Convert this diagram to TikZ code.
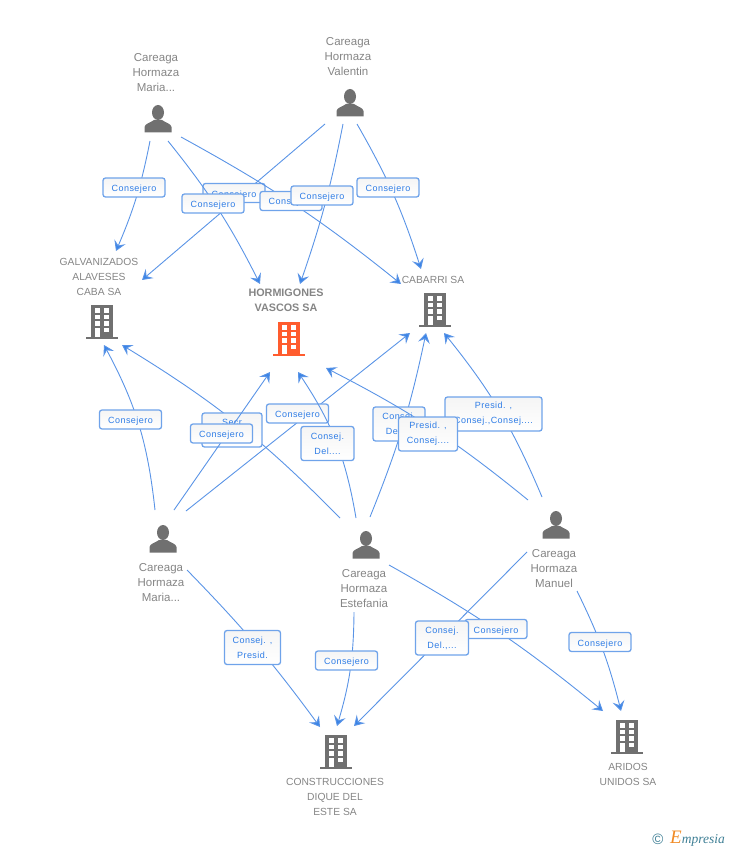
\documentclass[tikz,border=0pt]{standalone}
\usepackage{fontspec}
\setmainfont{Liberation Sans}
\newfontfamily\badgefont[LetterSpace=5]{Liberation Sans}
\newfontfamily\logofont{Liberation Serif}
\usetikzlibrary{arrows.meta}
\definecolor{linkblue}{HTML}{5A94E6}
\definecolor{tipblue}{HTML}{3A84E6}
\definecolor{badgeline}{HTML}{6FA3EA}
\definecolor{badgetext}{HTML}{2F7DE6}
\definecolor{iconGray}{HTML}{707070}
\definecolor{iconRed}{HTML}{FF5C2E}
\definecolor{nameGray}{HTML}{858585}
\definecolor{logoTeal}{HTML}{3F7F95}
\definecolor{logoOrange}{HTML}{F08A24}
\tikzset{
  link/.style={draw=linkblue, line width=0.9pt, -{Stealth[length=10pt,width=12pt,inset=4pt,fill=tipblue]}},
  badge/.style={draw=badgeline, line width=1.3pt, rounded corners=2.5pt, top color=black!4, bottom color=white,
    text=badgetext, font=\badgefont\fontsize{9}{15}\selectfont, align=center, inner sep=0pt,
    minimum width=#1, minimum height=19, text height=9pt, text depth=1pt},
  badge/.default=62,
  tall/.style={minimum height=34, text height=, text depth=},
  person/.style={text=nameGray, font=\fontsize{11.5}{15}\selectfont, align=center, inner sep=0pt},
  firm/.style={text=nameGray, font=\fontsize{10.3}{15}\selectfont, align=center, inner sep=0pt},
  pics/tower/.style={code={
    \fill[#1] (-11,-17) rectangle (11,15);
    \fill[#1] (-16,15) rectangle (16,17);
    \foreach \y in {-14,-7.5,-1} {
      \fill[white] (-7,\y) rectangle (-2,\y+4.5);
      \fill[white] (2,\y) rectangle (7,\y+4.5);
    }
    \fill[white] (-7,5.5) rectangle (-2,15);
    \fill[white] (2,5.5) rectangle (7,10);
  }},
  pics/someone/.style={code={
    \fill[iconGray] (0,-6.5) ellipse (6 and 7.5);
    \fill[iconGray] (-13.5,13.5) -- (-13.5,8) .. controls (-13,4.5) and (-8,4) .. (-4,1) -- (4,1)
      .. controls (8,4) and (13,4.5) .. (13.5,8) -- (13.5,13.5) -- cycle;
  }}
}
\begin{document}
\begin{tikzpicture}[x=1pt,y=-1pt]
  \useasboundingbox (0,0) rectangle (728,850);
  % loose ends of the links
  \foreach \i/\x/\y in {1/150/141, 2/168/141, 3/181/137, 4/325/124, 5/343/124, 6/357/124,
      7/155/510, 8/174/510, 9/186/511, 10/187/570, 11/340/518, 12/356/518, 13/370/517,
      14/528/500, 15/542/497, 16/389/565, 17/527/552, 18/577/591, 19/354/612}
    \coordinate (s\i) at (\x,\y);
  \foreach \i/\x/\y in {1/116/251, 2/260/284, 3/401/284, 4/142/280, 5/300/284, 6/421/269,
      7/104/345, 8/270/372, 9/410/333, 10/320/727, 11/122/345, 12/298/372, 13/426/333,
      14/326/368, 15/444/333, 16/603/711, 17/354/726, 18/621/711, 19/337/726}
    \coordinate (e\i) at (\x,\y);

  \foreach \n/\x/\y in {mariaTop/158/119, valentin/350/103, mariaLow/163/539, estefania/366/545, manuel/556/525}
    \pic (\n) at (\x,\y) {someone};
  \foreach \n/\x/\y/\c in {galvanizados/102/322/iconGray, hormigones/289/339/iconRed, cabarri/435/310/iconGray,
      construcciones/336/752/iconGray, aridos/627/737/iconGray}
    \pic (\n) at (\x,\y) {tower=\c};

  \node[person] (mariaTopName) at (156,72.5) {Careaga\\Hormaza\\Maria...};
  \node[person] (valentinName) at (348,56.5) {Careaga\\Hormaza\\Valentin};
  \node[person] (mariaLowName) at (161,582.5) {Careaga\\Hormaza\\Maria...};
  \node[person] (estefaniaName) at (364,588.5) {Careaga\\Hormaza\\Estefania};
  \node[person] (manuelName) at (554,568.5) {Careaga\\Hormaza\\Manuel};
  \node[firm] (galvanizadosName) at (99,276.5) {GALVANIZADOS\\ALAVESES\\CABA SA};
  \node[firm, font=\bfseries\fontsize{10.8}{15}\selectfont] (hormigonesName) at (286,300.5) {HORMIGONES\\VASCOS SA};
  \node[firm] (cabarriName) at (433,279.5) {CABARRI SA};
  \node[firm] (construccionesName) at (335,796.5) {CONSTRUCCIONES\\DIQUE DEL\\ESTE SA};
  \node[firm] (aridosName) at (628,774.5) {ARIDOS\\UNIDOS SA};

  % drawn in this order, later ones cover earlier ones
  \draw[link] (s1) to[bend left=6] (e1);
  \node[badge] (badge1) at (134,187.5) {Consejero};
  \draw[link] (s4) to (e4);
  \node[badge] (badge4) at (234,193) {Consejero};
  \draw[link] (s2) to[bend left=6] (e2);
  \node[badge] (badge2) at (213,203.5) {Consejero};
  \draw[link] (s3) to[bend left=5] (e3);
  \node[badge] (badge3) at (291,201) {Consejero};
  \draw[link] (s5) to[bend left=4] (e5);
  \node[badge] (badge5) at (322,195.5) {Consejero};
  \draw[link] (s6) to[bend left=6] (e6);
  \node[badge] (badge6) at (388,187.5) {Consejero};
  \draw[link] (s7) to[bend right=11] (e7);
  \node[badge] (badge7) at (130.5,419.5) {Consejero};
  \draw[link] (s11) to[bend right=7] (e11);
  \node[badge=60, tall] (badge11) at (232,430) {Secr\hspace{8pt}\\ };
  \draw[link] (s8) to (e8);
  \node[badge] (badge8) at (221.5,433.5) {Consejero};
  \draw[link] (s9) to (e9);
  \node[badge] (badge9) at (297.5,413.5) {Consejero};
  \draw[link] (s12) to[bend right=12] (e12);
  \node[badge=53, tall] (badge12) at (327.5,443.5) {Consej.\\Del....};
  \draw[link] (s13) to[bend right=5] (e13);
  \node[badge=52, tall] (badge13) at (399,424) {Consej.\\Del....};
  \draw[link] (s15) to[bend right=8] (e15);
  \node[badge=97, tall] (badge15) at (493.5,414) {Presid. ,\\Consej.,Consej....};
  \draw[link] (s14) to[bend right=6] (e14);
  \node[badge=59, tall] (badge14) at (428,434) {Presid. ,\\Consej....};
  \draw[link] (s10) to[bend left=4] (e10);
  \node[badge=56, tall] (badge10) at (252.5,647.5) {Consej. ,\\Presid.};
  \draw[link] (s19) to[bend left=8] (e19);
  \node[badge] (badge19) at (346.5,660.5) {Consejero};
  \draw[link] (s16) to[bend left=5] (e16);
  \node[badge] (badge16) at (496,629) {Consejero};
  \draw[link] (s17) to (e17);
  \node[badge=53, tall] (badge17) at (442,638) {Consej.\\Del.,...};
  \draw[link] (s18) to[bend left=6] (e18);
  \node[badge] (badge18) at (600,642) {Consejero};

  \node[text=logoTeal, inner sep=0pt, font=\fontsize{15}{15}\selectfont] (logoMark) at (658,839) {©};
  \node[anchor=west, inner sep=0pt, text=logoTeal, font=\logofont\itshape\fontsize{13.5}{15}\selectfont] (logoName) at (670,839)
    {\textcolor{logoOrange}{\fontsize{19}{15}\selectfont E}mpresia};
\end{tikzpicture}
\end{document}
